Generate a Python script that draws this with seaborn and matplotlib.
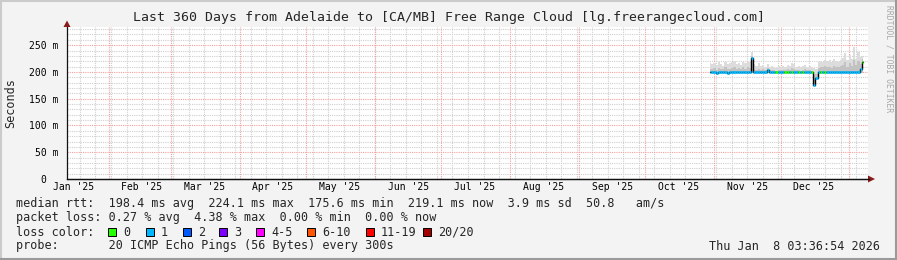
import matplotlib
matplotlib.use("Agg")
import matplotlib.pyplot as plt
import matplotlib.dates as mdates
from matplotlib.patches import Rectangle, Polygon
from matplotlib.lines import Line2D
import numpy as np
import pandas as pd
import seaborn as sns
from datetime import datetime, timedelta

# ---------------- data ----------------
title = "Last 360 Days from Adelaide to [CA/MB] Free Range Cloud [lg.freerangecloud.com]"
y_label = "Seconds"
range_start = "2025-01-13 03:36:54"
range_end = "2026-01-08 03:36:54"
data_start = "2025-10-30 03:36:54"

median_ms = [199, 199, 199, 198, 199, 199, 199, 199, 198, 199,
             199, 199, 199, 199, 199, 199, 199, 199, 199, 226,
             199, 199, 199, 199, 199, 199, 204, 199, 199, 199,
             199, 199, 199, 199, 199, 199, 199, 199, 199, 199,
             199, 199, 199, 199, 199, 199, 199, 176, 189, 199,
             199, 199, 199, 199, 199, 199, 199, 199, 199, 199,
             199, 199, 199, 199, 199, 199, 199, 199, 206, 219]

smoke_hi_ms = [216, 214, 217, 213, 218, 215, 212, 219, 214, 216,
               218, 221, 215, 217, 213, 219, 216, 220, 218, 237,
               214, 212, 216, 211, 213, 210, 214, 209, 212, 210,
               208, 211, 209, 212, 210, 213, 211, 216, 214, 210,
               212, 209, 211, 213, 210, 212, 209, 208, 206, 218,
               221, 219, 223, 220, 222, 218, 224, 221, 219, 223,
               226, 235, 222, 232, 224, 246, 225, 237, 228, 230]

smoke_mid_ms = [206, 205, 207, 204, 208, 206, 205, 209, 205, 206,
                208, 210, 206, 207, 205, 209, 206, 209, 208, 230,
                205, 204, 206, 204, 205, 203, 207, 203, 204, 203,
                202, 204, 203, 204, 203, 205, 204, 207, 206, 203,
                204, 202, 204, 205, 203, 204, 202, 195, 196, 208,
                210, 209, 211, 209, 210, 208, 212, 210, 209, 211,
                213, 218, 210, 216, 212, 222, 213, 220, 214, 224]

loss_level = [1, 1, 1, 1, 1, 1, 1, 1, 1, 1,
              1, 1, 1, 1, 1, 1, 1, 1, 1, 1,
              1, 1, 1, 1, 1, 1, 1, 1, 1, 1,
              0, 1, 1, 1, 0, 0, 1, 0, 1, 1,
              0, 1, 0, 1, 1, 1, 0, 1, 1, 1,
              0, 1, 0, 1, 1, 1, 1, 1, 1, 1,
              1, 1, 1, 1, 1, 1, 1, 1, 1, 0]

y_ticks = [0, 50, 100, 150, 200, 250]
y_tick_labels = ["0  ", "50 m", "100 m", "150 m", "200 m", "250 m"]
month_labels = ["Jan '25", "Feb '25", "Mar '25", "Apr '25", "May '25", "Jun '25",
                "Jul '25", "Aug '25", "Sep '25", "Oct '25", "Nov '25", "Dec '25"]

legend_median = "median rtt:  198.4 ms avg  224.1 ms max  175.6 ms min  219.1 ms now  3.9 ms sd  50.8   am/s"
legend_loss = "packet loss: 0.27 % avg  4.38 % max  0.00 % min  0.00 % now"
legend_color_title = "loss color:"
loss_names = ["0", "1", "2", "3", "4-5", "6-10", "11-19", "20/20"]
loss_colors = ["#26ff00", "#00b8ff", "#0059ff", "#7e00ff", "#ff00ff", "#ff5500", "#ff0000", "#a10000"]
legend_probe = "probe:       20 ICMP Echo Pings (56 Bytes) every 300s"
stamp = "Thu Jan  8 03:36:54 2026"
watermark = "RRDTOOL / TOBI OETIKER"

# ---------------- figure ----------------
sns.set_theme(style="white")
plt.rcParams["font.family"] = ["DejaVu Sans Mono", "DejaVu Sans"]

W, H = 897, 260
fig = plt.figure(figsize=(W / 100, H / 100), dpi=100)
fig.patch.set_facecolor("#f3f3f3")

def fx(px):
    return px / W

def fy(py):
    return 1 - py / H

ax_left, ax_right, ax_top, ax_bot = 67, 868, 27, 179
ax = fig.add_axes([fx(ax_left), fy(ax_bot), fx(ax_right - ax_left), (ax_bot - ax_top) / H])
ax.set_facecolor("white")

t0 = pd.Timestamp(range_start)
t1 = pd.Timestamp(range_end)
dates = pd.date_range(start=data_start, periods=len(median_ms), freq="D")
df = pd.DataFrame({"date": dates, "median": median_ms, "hi": smoke_hi_ms,
                   "mid": smoke_mid_ms, "loss": loss_level})

ax.set_xlim(t0, t1 + pd.Timedelta(hours=30))
ax.set_ylim(0, 284)

# grid
dotted = (0, (1, 1))
d = pd.Timestamp("2025-01-19")
while d < t1 + pd.Timedelta(days=2):
    ax.axvline(d, color="#cfcfcf", lw=0.8, ls=dotted, zorder=0.5)
    d += pd.Timedelta(days=7)
for v in range(10, 284, 10):
    if v % 50:
        ax.axhline(v, color="#cfcfcf", lw=0.8, ls=dotted, zorder=0.5)
for m in pd.date_range("2025-02-01", "2026-01-01", freq="MS"):
    ax.axvline(m, color="#f4a0a0", lw=0.8, ls=dotted, zorder=0.6)
for v in y_ticks[1:]:
    ax.axhline(v, color="#f4a0a0", lw=0.8, ls=dotted, zorder=0.6)

# smoke
lo = np.minimum(df["median"].values, 198)
ax.fill_between(df["date"], lo, df["hi"], step="mid", color="#dcdcdc", lw=0, zorder=1)
ax.fill_between(df["date"], lo, df["mid"], step="mid", color="#c2c2c2", lw=0, zorder=1.1)

# median line
sns.lineplot(data=df, x="date", y="median", ax=ax, color="black", lw=1,
             drawstyle="steps-mid", estimator=None, zorder=2)
half = pd.Timedelta(hours=12)
for i, row in df.iterrows():
    a = row["date"] - half if i > 0 else row["date"]
    b = row["date"] + half if i < len(df) - 1 else row["date"]
    ax.hlines(row["median"], a, b, color=loss_colors[row["loss"]], lw=1.9, zorder=3)

# axes styling
for s in ["top", "right"]:
    ax.spines[s].set_visible(False)
for s in ["left", "bottom"]:
    ax.spines[s].set_color("#111111")
    ax.spines[s].set_linewidth(0.9)
ax.set_yticks(y_ticks)
ax.set_yticklabels(y_tick_labels, fontsize=7)
ax.tick_params(axis="y", length=2, width=0.8, pad=4.3, colors="black")
label_pos = pd.date_range("2025-01-16", periods=12, freq="MS") + pd.Timedelta(days=15)
label_pos = [pd.Timestamp(2025, k + 1, 16) for k in range(12)]
ax.set_xticks(label_pos)
ax.set_xticklabels(month_labels, fontsize=7)
ax.tick_params(axis="x", length=0, pad=2.5, colors="black")
ax.set_xlabel("")
ax.set_ylabel("")

# arrows
fig.add_artist(Polygon([(fx(868), fy(175.5)), (fx(875), fy(179)), (fx(868), fy(182.5))],
                       closed=True, transform=fig.transFigure, color="#8b1a1a", lw=0))
fig.add_artist(Polygon([(fx(63.5), fy(27)), (fx(67), fy(20.5)), (fx(70.5), fy(27))],
                       closed=True, transform=fig.transFigure, color="#8b1a1a", lw=0))
fig.add_artist(Line2D([fx(67), fx(869)], [fy(179), fy(179)], transform=fig.transFigure,
                      color="#111111", lw=0.9))

# texts
fig.text(0.5, fy(18), title, ha="center", va="center", fontsize=9.5)
fig.text(fx(11), fy(103), y_label, rotation=90, ha="center", va="center", fontsize=8.5)
fig.text(fx(889), fy(5), watermark, rotation=270, ha="center", va="top", fontsize=5.8,
         color="#a8a8a8")

fs = 8.5
fig.text(fx(16), fy(204), legend_median, ha="left", va="center", fontsize=fs)
fig.text(fx(16), fy(218), legend_loss, ha="left", va="center", fontsize=fs)
fig.text(fx(16), fy(232), legend_color_title, ha="left", va="center", fontsize=fs)
box_x = [108, 146, 183, 219, 256, 307, 366, 423]
for bx, name, col in zip(box_x, loss_names, loss_colors):
    fig.add_artist(Rectangle((fx(bx), fy(236)), 8 / W, 8 / H, transform=fig.transFigure,
                             facecolor=col, edgecolor="black", lw=0.7))
    fig.text(fx(bx + 15), fy(232), name, ha="left", va="center", fontsize=fs)
fig.text(fx(16), fy(246), legend_probe, ha="left", va="center", fontsize=fs)
fig.text(fx(880), fy(246), stamp, ha="right", va="center", fontsize=fs)

# frame shading
fig.add_artist(Line2D([0, 1], [fy(0.5), fy(0.5)], transform=fig.transFigure, color="#cbcbcb", lw=1.5))
fig.add_artist(Line2D([fx(0.5), fx(0.5)], [0, 1], transform=fig.transFigure, color="#cbcbcb", lw=1.5))
fig.add_artist(Line2D([0, 1], [fy(259), fy(259)], transform=fig.transFigure, color="#9a9a9a", lw=1.5))
fig.add_artist(Line2D([fx(896), fx(896)], [0, 1], transform=fig.transFigure, color="#9a9a9a", lw=1.5))

fig.savefig("out.png", dpi=100, facecolor=fig.get_facecolor())
